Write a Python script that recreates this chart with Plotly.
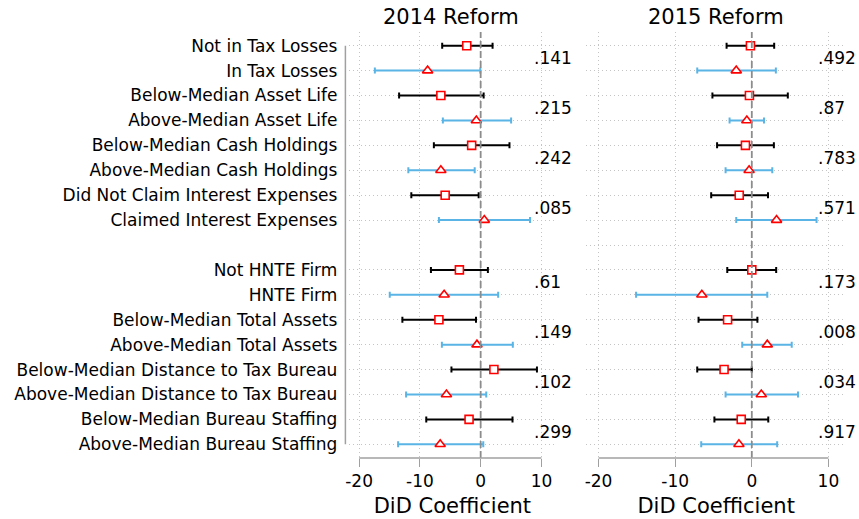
import plotly.graph_objects as go

# Subgroup labels (top to bottom); a blank slot separates the two blocks
labels = [
    "Not in Tax Losses", "In Tax Losses",
    "Below-Median Asset Life", "Above-Median Asset Life",
    "Below-Median Cash Holdings", "Above-Median Cash Holdings",
    "Did Not Claim Interest Expenses", "Claimed Interest Expenses",
    "Not HNTE Firm", "HNTE Firm",
    "Below-Median Total Assets", "Above-Median Total Assets",
    "Below-Median Distance to Tax Bureau", "Above-Median Distance to Tax Bureau",
    "Below-Median Bureau Staffing", "Above-Median Bureau Staffing",
]
row_pos = [1, 2, 3, 4, 5, 6, 7, 8, 10, 11, 12, 13, 14, 15, 16, 17]

# 2014 reform: DiD coefficient with 95% CI
coef_2014 = [-2.29, -8.73, -6.55, -0.71, -1.48, -6.55, -5.84, 0.60,
             -3.50, -6.01, -6.87, -0.61, 2.18, -5.63, -1.91, -6.66]
lo_2014 = [-6.33, -17.41, -13.42, -6.22, -7.70, -11.90, -11.41, -6.87,
           -8.18, -14.96, -12.88, -6.38, -4.81, -12.27, -8.95, -13.58]
hi_2014 = [1.96, -0.06, 0.49, 5.01, 4.74, -0.98, -0.33, 8.12,
           1.19, 2.88, -0.77, 5.29, 9.26, 0.92, 5.24, 0.43]

# 2015 reform
coef_2015 = [-0.18, -2.03, -0.31, -0.65, -0.83, -0.35, -1.64, 3.23,
             0.00, -6.52, -3.16, 2.02, -3.62, 1.24, -1.38, -1.68]
lo_2015 = [-3.29, -7.12, -5.14, -2.90, -4.53, -3.42, -5.30, -2.03,
           -3.20, -15.10, -6.95, -1.25, -7.12, -3.42, -4.88, -6.60]
hi_2015 = [2.92, 3.14, 4.70, 1.59, 2.88, 2.67, 2.11, 8.45,
           3.18, 2.02, 0.73, 5.21, 0.00, 6.03, 2.15, 3.31]

# p-values for the difference within each pair
pvals_2014 = [".141", ".215", ".242", ".085", ".61", ".149", ".102", ".299"]
pvals_2015 = [".492", ".87", ".783", ".571", ".173", ".008", ".034", ".917"]

panel_titles = ["2014 Reform", "2015 Reform"]
x_tickvals = [-20, -10, 0, 10]
x_ticktext = ["-20", "-10", "0", "10"]

FONT = "DejaVu Sans"
W, H = 859, 519
BLACK = "#000000"
BLUE = "#5ab4e6"
RED = "#ff0000"
GRID = "#c4c4c4"
GRID_DASH = "1px,3px"
AXIS = "#a0a0a0"

x_range = [-21.6, 12.3]
y_range = [17.55, 0.45]
dom_left = [347 / W, 554 / W]
dom_right = [585 / W, 846 / W]
y_dom = [1 - 458 / H, 1 - 32 / H]

fig = go.Figure()


def add_panel(coef, lo, hi, xa, ya):
    for k, (col, sym, size) in enumerate([(BLACK, "square", 8), (BLUE, "triangle-up", 9)]):
        idx = list(range(k, len(coef), 2))
        c = [coef[i] for i in idx]
        fig.add_trace(go.Scatter(
            x=c, y=[row_pos[i] for i in idx],
            xaxis=xa, yaxis=ya, mode="markers", showlegend=False,
            marker=dict(symbol=sym, size=size, color="white",
                        line=dict(color=RED, width=1.6)),
            error_x=dict(type="data", symmetric=False,
                         array=[hi[i] - coef[i] for i in idx],
                         arrayminus=[coef[i] - lo[i] for i in idx],
                         color=col, thickness=2, width=3),
            cliponaxis=False,
        ))


add_panel(coef_2014, lo_2014, hi_2014, "x", "y")
add_panel(coef_2015, lo_2015, hi_2015, "x2", "y2")

xaxis_common = dict(
    range=x_range, tickvals=x_tickvals, ticktext=x_ticktext, ticks="outside", ticklen=8,
    tickwidth=1.3, tickcolor=AXIS, showline=False, zeroline=False,
    showgrid=True, gridcolor=GRID, griddash=GRID_DASH, gridwidth=1,
    tickfont=dict(family=FONT, size=17, color="black"),
    title=dict(text="DiD Coefficient", font=dict(family=FONT, size=21, color="black"),
               standoff=7),
)

fig.update_layout(
    width=W, height=H,
    margin=dict(l=0, r=0, t=0, b=0),
    paper_bgcolor="white", plot_bgcolor="white",
    font=dict(family=FONT, color="black"),
    xaxis=dict(domain=dom_left, anchor="y", **xaxis_common),
    xaxis2=dict(domain=dom_right, anchor="y2", **xaxis_common),
    yaxis=dict(domain=y_dom, anchor="x", range=y_range, tickvals=row_pos,
               ticktext=labels, ticks="", showline=False, zeroline=False,
               showgrid=True, gridcolor=GRID, griddash=GRID_DASH, gridwidth=1,
               ticklabelstandoff=11,
               tickfont=dict(family=FONT, size=17, color="black")),
    yaxis2=dict(domain=y_dom, anchor="x2", range=y_range,
                tickvals=list(range(1, 18)), showticklabels=False, ticks="",
                showline=False, zeroline=False,
                showgrid=True, gridcolor=GRID, griddash=GRID_DASH, gridwidth=1),
)

shapes = []
for xr, yr in [("x", "y"), ("x2", "y2")]:
    # reference line at zero
    shapes.append(dict(type="line", xref=xr, yref=f"{yr} domain", x0=0, x1=0, y0=0, y1=1,
                       line=dict(color="#8c8c8c", width=1.8, dash="7px,3px"), layer="above"))
    # x axis line spanning the labelled ticks
    shapes.append(dict(type="line", xref=xr, yref=f"{yr} domain", x0=x_tickvals[0],
                       x1=x_tickvals[-1], y0=0, y1=0, line=dict(color=AXIS, width=1.5)))
# y axis line of the left panel
shapes.append(dict(type="line", xref="paper", yref="y", x0=343 / W, x1=343 / W,
                   y0=row_pos[0], y1=row_pos[-1], line=dict(color=AXIS, width=1.5)))
fig.update_layout(shapes=shapes)

annotations = []
for xr, pv in [("x", pvals_2014), ("x2", pvals_2015)]:
    yr = "y" if xr == "x" else "y2"
    for j, p in enumerate(pv):
        annotations.append(dict(x=8.4, y=row_pos[2 * j] + 0.5, xref=xr, yref=yr,
                                text=p, showarrow=False, xanchor="left", yanchor="middle",
                                font=dict(family=FONT, size=17, color="black")))
for cx, t in zip([449 / W, 715.5 / W], panel_titles):
    annotations.append(dict(x=cx, y=1 - 17 / H, xref="paper", yref="paper",
                            text=t, showarrow=False, xanchor="center", yanchor="middle",
                            font=dict(family=FONT, size=21, color="black")))
fig.update_layout(annotations=annotations)

fig.write_html("out.html")
